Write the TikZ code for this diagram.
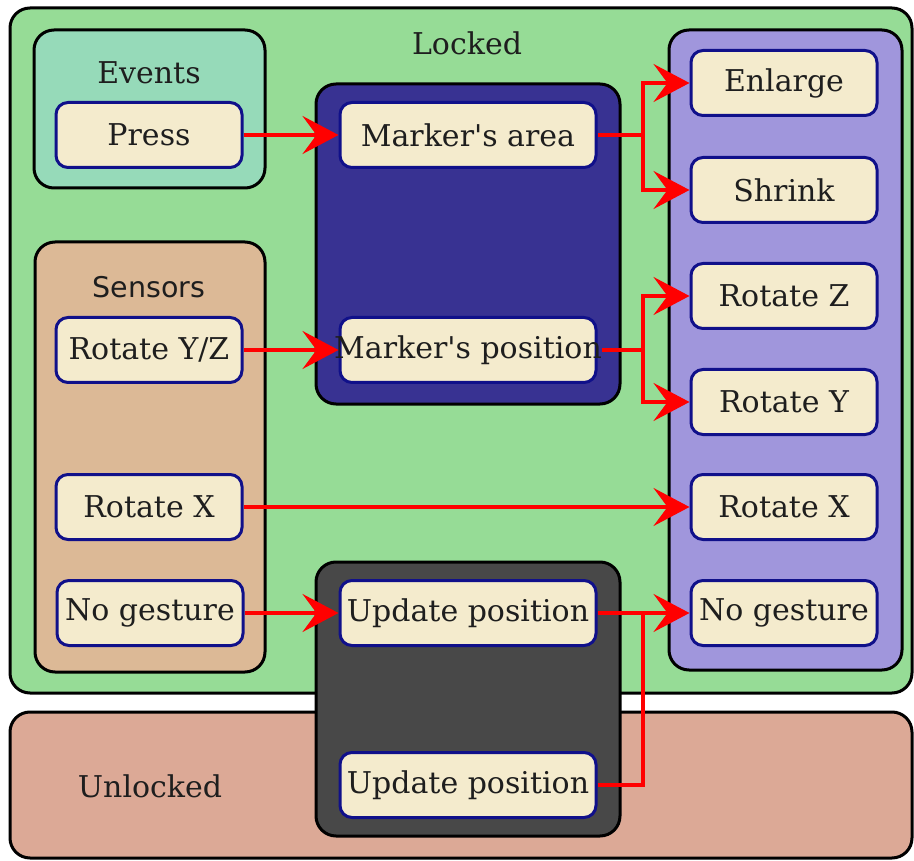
\documentclass[tikz,border=0pt]{standalone}
\usepackage{fontspec}
\setmainfont{DejaVu Serif}[Ligatures=TeXOff]
\newfontfamily\lblsans{DejaVu Sans}
\usetikzlibrary{arrows.meta}
\definecolor{lockedc}{RGB}{150,220,150}
\definecolor{eventsc}{RGB}{150,218,185}
\definecolor{sensorsc}{RGB}{220,185,150}
\definecolor{markerc}{RGB}{56,50,146}
\definecolor{grayc}{RGB}{72,72,72}
\definecolor{purplec}{RGB}{160,150,220}
\definecolor{unlockc}{RGB}{220,169,150}
\definecolor{beigec}{RGB}{244,235,205}
\definecolor{navyc}{RGB}{16,16,138}
\definecolor{txtc}{RGB}{30,30,30}
\tikzset{
  grp/.style={draw=black, line width=3pt, rounded corners=20pt},
  item/.style={draw=navyc, fill=beigec, line width=3pt, rounded corners=12pt,
    minimum width=186pt, minimum height=65pt, inner sep=0pt,
    text=txtc, font=\fontsize{30pt}{36pt}\selectfont},
  wide/.style={item, minimum width=256pt},
  lbl/.style={text=txtc, inner sep=0pt, font=\fontsize{30pt}{36pt}\selectfont},
  redline/.style={draw=red, line width=3.5pt},
  arr/.style={redline, -{Stealth[length=36pt, width=38pt, inset=14pt]}},
}
\begin{document}
\begin{tikzpicture}[x=1pt, y=-1pt]
\useasboundingbox (0,0) rectangle (914,861);
% outer regions
\draw[grp, fill=lockedc] (10,8) rectangle (912,693);
\draw[grp, fill=unlockc] (10,712) rectangle (912,858);
% groups
\draw[grp, fill=eventsc] (34,30) rectangle (265,188);
\draw[grp, fill=sensorsc] (35,242) rectangle (265,672);
\draw[grp, fill=markerc] (316,84) rectangle (620,404);
\draw[grp, fill=grayc] (316,562) rectangle (620,836);
\draw[grp, fill=purplec] (669,30) rectangle (902,670);
% labels
\node[lbl] (locked) at (467,43) {Locked};
\node[lbl] (events) at (149,73) {Events};
\node[lbl, font=\lblsans\fontsize{28.5pt}{34pt}\selectfont] (sensors) at (149,287) {Sensors};
\node[lbl] (unlocked) at (150,786) {Unlocked};
% items
\node[item] (press) at (149,135) {Press};
\node[item] (rotyz) at (149,350) {Rotate Y/Z};
\node[item] (rotxl) at (149,507) {Rotate X};
\node[item] (nogl) at (150,613) {No gesture};
\node[wide] (area) at (468,135) {Marker's area};
\node[wide] (pos) at (468,350) {\makebox[0pt]{Marker's position}};
\node[wide] (upd1) at (468,613) {Update position};
\node[wide] (upd2) at (468,785) {Update position};
\node[item] (enlarge) at (784,83) {Enlarge};
\node[item] (shrink) at (784,190) {Shrink};
\node[item] (rotz) at (784,296) {Rotate Z};
\node[item] (roty) at (784,402) {Rotate Y};
\node[item] (rotxr) at (784,507) {Rotate X};
\node[item] (nogr) at (784,613) {No gesture};
% junctions
\coordinate (j1) at (643,135);
\coordinate (j2) at (643,350);
\coordinate (j3) at (643,613);
% connectors
\draw[arr] (press.east) -- (area.west);
\draw[redline] (area.east) -- (j1);
\draw[arr] (j1) |- (enlarge.west);
\draw[arr] (j1) |- (shrink.west);
\draw[arr] (rotyz.east) -- (pos.west);
\draw[redline] ([xshift=4pt]pos.east) -- (j2);
\draw[arr] (j2) |- (rotz.west);
\draw[arr] (j2) |- (roty.west);
\draw[arr] (rotxl.east) -- (rotxr.west);
\draw[arr] (nogl.east) -- (upd1.west);
\draw[arr] (upd1.east) -- (nogr.west);
\draw[redline] (upd2.east) -| (j3);
\end{tikzpicture}
\end{document}
